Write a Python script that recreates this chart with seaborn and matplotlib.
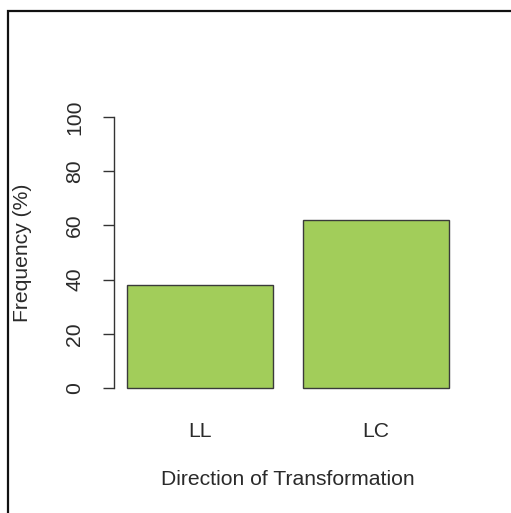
import matplotlib
matplotlib.use("Agg")
import matplotlib.pyplot as plt
import matplotlib.patches as mpatches
import seaborn as sns
import pandas as pd

# Data
categories = ["LL", "LC"]
frequency = [38, 62]
y_ticks = [0, 20, 40, 60, 80, 100]

df = pd.DataFrame({"direction": categories, "freq": frequency})

sns.set_style("white")
plt.rcParams["font.family"] = ["Liberation Sans", "DejaVu Sans"]

W, H = 511, 513
fig = plt.figure(figsize=(W / 100, H / 100), dpi=100)
fig.patch.set_facecolor("white")

# plot region in pixels
left_px, right_px, top_px, bottom_px = 114, 462, 106.2, 398.8
ax = fig.add_axes([left_px / W, 1 - bottom_px / H,
                   (right_px - left_px) / W, (bottom_px - top_px) / H])

sns.barplot(data=df, x="direction", y="freq", color="#A2CD5A",
            width=1 / 1.2, edgecolor="#3a3a3a", linewidth=1.0,
            saturation=1, ax=ax)

ax.set_xlim(-0.49, 1.49)
ax.set_ylim(-4, 104)

for s in ["top", "right", "bottom"]:
    ax.spines[s].set_visible(False)
ax.spines["left"].set_bounds(0, 100)
ax.spines["left"].set_color("#333333")
ax.spines["left"].set_linewidth(1.0)

fs = 15.2
txt = "#2a2a2a"
ax.set_yticks(y_ticks)
ax.set_yticklabels([str(t) for t in y_ticks], rotation=90, va="center")
ax.tick_params(axis="y", length=8, width=1.0, color="#333333", pad=13.5,
               labelsize=fs, labelcolor=txt, left=True)
ax.tick_params(axis="x", length=0, pad=17, labelsize=fs, labelcolor=txt)

ax.set_xlabel("Direction of Transformation", fontsize=fs, color=txt)
ax.set_ylabel("Frequency (%)", fontsize=fs, color=txt)
ax.xaxis.set_label_coords(0.5, -0.2775)
ax.yaxis.set_label_coords(-0.264, 0.5)
ax.xaxis.label.set_va("center")
ax.yaxis.label.set_va("center")

# outer frame
frame = mpatches.Rectangle((7.5 / W, -0.1), 1.2, 1 - 11.5 / H + 0.1,
                           transform=fig.transFigure, fill=False,
                           edgecolor="#111111", linewidth=1.6, clip_on=False)
fig.patches.append(frame)

fig.savefig("out.png", dpi=100)
